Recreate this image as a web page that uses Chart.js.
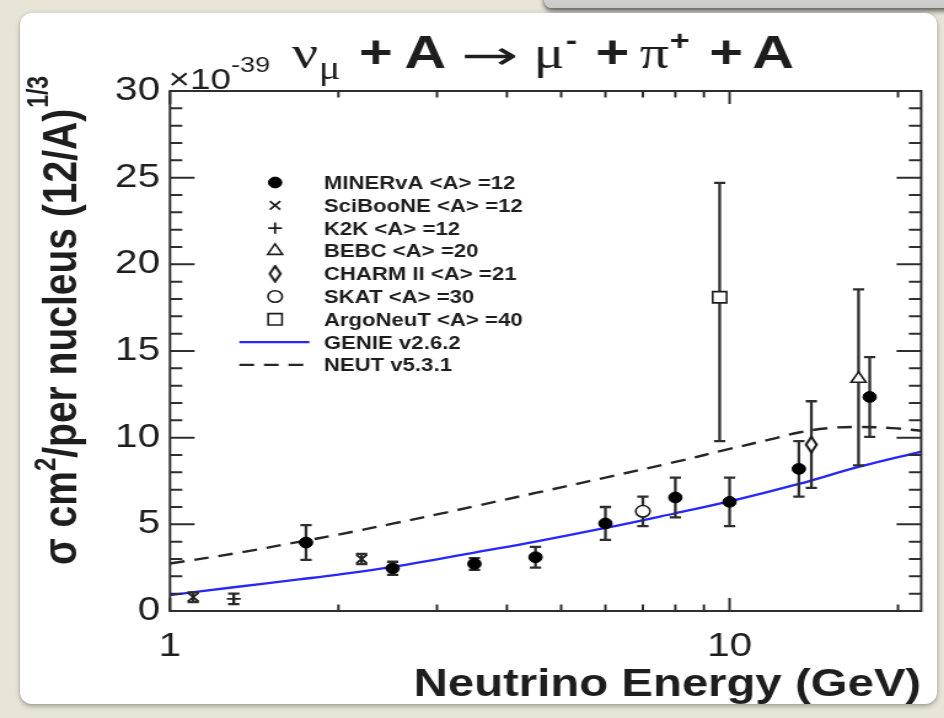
<!DOCTYPE html>
<html>
<head>
<meta charset="utf-8">
<script src="https://cdn.jsdelivr.net/npm/chart.js@4.4.1/dist/chart.umd.min.js"></script>
<style>
  html, body { margin: 0; padding: 0; }
  body { width: 944px; height: 718px; overflow: hidden; position: relative; background: #e8e5d8; }
  #shade { position: absolute; left: 544px; top: -30px; width: 420px; height: 38px;
           background: linear-gradient(#e2e2de, #c9c9c5); border-radius: 8px;
           box-shadow: 0 3px 5px rgba(0,0,0,0.6); }
  #card { position: absolute; left: 20px; top: 13px; width: 917px; height: 691px; background: #fff;
          border-radius: 12px; box-shadow: 0 2px 5px rgba(0,0,0,0.35); }
  #stage { position: absolute; left: 0; top: 0; width: 768px; height: 718px;
           transform: scaleX(1.2292); transform-origin: 0 0; }
</style>
</head>
<body>
<div id="shade"></div>
<div id="card"></div>
<div id="stage"><canvas id="c"></canvas></div>
<script>
// ---- measurements: neutrino energy (GeV), cross section (1e-39 cm^2 per nucleus, scaled to A=12) ----
const minervaE     = [1.75, 2.5, 3.5, 4.5, 6.0, 8.0, 10.0, 13.3, 17.8];
const minervaXs    = [3.95, 2.46, 2.72, 3.1, 5.05, 6.55, 6.3, 8.2, 12.35];
const minervaErrLo = [1.0, 0.38, 0.35, 0.6, 0.95, 1.15, 1.4, 1.6, 2.3];
const minervaErrHi = [1.0, 0.38, 0.33, 0.6, 0.95, 1.15, 1.4, 1.6, 2.3];

const scibooneE     = [1.1, 2.2];
const scibooneXs    = [0.8, 3.0];
const scibooneErrLo = [0.28, 0.3];
const scibooneErrHi = [0.28, 0.3];

const k2kE     = [1.3];
const k2kXs    = [0.7];
const k2kErrLo = [0.3];
const k2kErrHi = [0.3];

const bebcE     = [17.0];
const bebcXs    = [13.4];
const bebcErrLo = [5.0];
const bebcErrHi = [5.15];

const charmE     = [14.0];
const charmXs    = [9.6];
const charmErrLo = [2.5];
const charmErrHi = [2.5];

const skatE     = [7.0];
const skatXs    = [5.75];
const skatErrLo = [0.85];
const skatErrHi = [0.85];

const argoE     = [9.6];
const argoXs    = [18.1];
const argoErrLo = [8.3];
const argoErrHi = [6.6];

// ---- model predictions ----
const genieE  = [1.0, 1.3, 1.7, 2.0, 2.5, 3.0, 3.5, 4.5, 6.0, 8.0, 10.0, 13.3, 17.0, 22.0];
const genieXs = [0.92, 1.37, 1.82, 2.1, 2.54, 2.98, 3.37, 4.0, 4.79, 5.64, 6.32, 7.33, 8.31, 9.2];

const neutE  = [1.0, 1.3, 1.7, 2.0, 2.5, 3.0, 3.5, 4.5, 6.0, 8.0, 10.0, 12.0, 13.3, 15.0, 17.0, 19.5, 22.0];
const neutXs = [2.74, 3.31, 3.99, 4.41, 5.04, 5.57, 6.04, 6.81, 7.7, 8.6, 9.35, 9.95, 10.3, 10.55, 10.62, 10.55, 10.4];

// ---- axes ----
const xTickValues  = [1, 10];
const xTickLabels  = ['1', '10'];
const xMinorTicks  = [2, 3, 4, 5, 6, 7, 8, 9, 20];
const yMajorTicks  = [0, 5, 10, 15, 20, 25, 30];
const yMinorTicks  = [1, 2, 3, 4, 6, 7, 8, 9, 11, 12, 13, 14, 16, 17, 18, 19, 21, 22, 23, 24, 26, 27, 28, 29];

const SANS  = '"Liberation Sans", Arial, Helvetica, sans-serif';
const SERIF = '"Liberation Serif", "DejaVu Serif", serif';
const INK   = '#1e1e1e';
const AXIS  = '#2e2e2e';
const CAP   = 4.6;

function diamondMarker() {
  const c = document.createElement('canvas');
  c.width = 12; c.height = 18;
  const g = c.getContext('2d');
  g.beginPath();
  g.moveTo(6, 1.3); g.lineTo(10.4, 9); g.lineTo(6, 16.7); g.lineTo(1.6, 9); g.closePath();
  g.fillStyle = '#fff'; g.fill();
  g.lineWidth = 2; g.strokeStyle = '#111'; g.stroke();
  return c;
}

const pts = (xs, ys) => xs.map((x, i) => ({ x, y: ys[i] }));

function pointSet(label, xs, ys, lo, hi, look) {
  return Object.assign({
    label, data: pts(xs, ys), errLo: lo, errHi: hi, showLine: false,
    pointHoverRadius: look.pointRadius
  }, look);
}

const filled  = { pointStyle: 'circle', pointRadius: 5.4, pointBackgroundColor: '#000', pointBorderColor: '#000', pointBorderWidth: 1 };
const xMark   = { pointStyle: 'crossRot', pointRadius: 6, pointBackgroundColor: INK, pointBorderColor: INK, pointBorderWidth: 1.8 };
const plus    = { pointStyle: 'cross', pointRadius: 5.6, pointBackgroundColor: INK, pointBorderColor: INK, pointBorderWidth: 1.8 };
const triOpen = { pointStyle: 'triangle', pointRadius: 7, pointBackgroundColor: '#fff', pointBorderColor: INK, pointBorderWidth: 1.6 };
const diaOpen = { pointStyle: diamondMarker(), pointRadius: 6, pointBackgroundColor: '#fff', pointBorderColor: INK, pointBorderWidth: 1.6 };
const cirOpen = { pointStyle: 'circle', pointRadius: 5.8, pointBackgroundColor: '#fff', pointBorderColor: INK, pointBorderWidth: 1.6 };
const sqOpen  = { pointStyle: 'rect', pointRadius: 8, pointBackgroundColor: '#fff', pointBorderColor: INK, pointBorderWidth: 1.6 };

const datasets = [
  pointSet('MINERvA <A> =12',   minervaE, minervaXs, minervaErrLo, minervaErrHi, filled),
  pointSet('SciBooNE <A> =12',  scibooneE, scibooneXs, scibooneErrLo, scibooneErrHi, xMark),
  pointSet('K2K <A> =12',       k2kE, k2kXs, k2kErrLo, k2kErrHi, plus),
  pointSet('BEBC <A> =20',      bebcE, bebcXs, bebcErrLo, bebcErrHi, triOpen),
  pointSet('CHARM II <A> =21',  charmE, charmXs, charmErrLo, charmErrHi, diaOpen),
  pointSet('SKAT <A> =30',      skatE, skatXs, skatErrLo, skatErrHi, cirOpen),
  pointSet('ArgoNeuT <A> =40',  argoE, argoXs, argoErrLo, argoErrHi, sqOpen),
  { label: 'GENIE v2.6.2', data: pts(genieE, genieXs), showLine: true, pointRadius: 0, pointHoverRadius: 0,
    borderColor: '#2626ff', borderWidth: 2.3, tension: 0.4, fill: false },
  { label: 'NEUT v5.3.1', data: pts(neutE, neutXs), showLine: true, pointRadius: 0, pointHoverRadius: 0,
    borderColor: '#262626', borderWidth: 2.4, borderDash: [12, 8], tension: 0.4, fill: false }
];

// vertical error bars with end caps, drawn just before each marker set
const errorBars = {
  id: 'errorBars',
  beforeDatasetDraw(chart, args) {
    const ds = chart.data.datasets[args.index];
    if (!ds.errLo) return;
    const y = chart.scales.y, ctx = chart.ctx;
    ctx.save();
    ctx.strokeStyle = AXIS;
    ctx.lineWidth = 2.3;
    args.meta.data.forEach((pt, i) => {
      const v = ds.data[i].y;
      const top = y.getPixelForValue(v + ds.errHi[i]);
      const bot = y.getPixelForValue(v - ds.errLo[i]);
      ctx.beginPath();
      ctx.moveTo(pt.x, top); ctx.lineTo(pt.x, bot);
      ctx.moveTo(pt.x - CAP, top); ctx.lineTo(pt.x + CAP, top);
      ctx.moveTo(pt.x - CAP, bot); ctx.lineTo(pt.x + CAP, bot);
      ctx.stroke();
    });
    ctx.restore();
  }
};

// frame with inward ticks on all four sides
const frame = {
  id: 'frame',
  afterDatasetsDraw(chart) {
    const { ctx, chartArea: a, scales: { x, y } } = chart;
    ctx.save();
    ctx.strokeStyle = AXIS;
    ctx.lineWidth = 2;
    ctx.strokeRect(a.left, a.top, a.right - a.left, a.bottom - a.top);
    ctx.beginPath();
    const yTick = (v, len) => {
      const p = y.getPixelForValue(v);
      ctx.moveTo(a.left, p); ctx.lineTo(a.left + len, p);
      ctx.moveTo(a.right, p); ctx.lineTo(a.right - len, p);
    };
    yMajorTicks.forEach(v => yTick(v, 20));
    yMinorTicks.forEach(v => yTick(v, 10));
    const xTick = (v, len) => {
      const p = x.getPixelForValue(v);
      ctx.moveTo(p, a.bottom); ctx.lineTo(p, a.bottom - len);
      ctx.moveTo(p, a.top); ctx.lineTo(p, a.top + len);
    };
    xTickValues.forEach(v => xTick(v, 13));
    xMinorTicks.forEach(v => xTick(v, 6.5));
    ctx.stroke();
    ctx.restore();
  }
};

function drawRuns(ctx, runs, x0, y0) {
  let x = x0;
  runs.forEach(r => {
    ctx.font = r.font;
    ctx.fillText(r.t, x + (r.dx || 0), y0 - (r.up || 0));
    x += ctx.measureText(r.t).width + (r.dx || 0);
  });
}

// titles, exponent and legend
const annotations = {
  id: 'annotations',
  afterDraw(chart) {
    const ctx = chart.ctx;
    ctx.save();
    ctx.fillStyle = INK;
    ctx.textBaseline = 'alphabetic';
    ctx.textAlign = 'left';

    // reaction title: nu_mu + A -> mu- + pi+ + A
    const T = 47;
    const bold = `bold ${T}px ${SANS}`, greek = `${T}px ${SERIF}`;
    const small = `bold ${Math.round(T * 0.6)}px ${SANS}`;
    const put = (t, f, x, y) => { ctx.font = f; ctx.fillText(t, x, y); return x + ctx.measureText(t).width; };
    let e = put('ν', greek, 237.5, 68);
    put('μ', `${Math.round(T * 0.7)}px ${SERIF}`, e + 0.5, 79);
    put('+', bold, 292.0, 68);
    put('A', bold, 329.0, 68);
    // long arrow: ink box scaled to span 378..420 and centred near y = 56
    ctx.save();
    ctx.font = `40px "DejaVu Sans", sans-serif`;
    const m = ctx.measureText('→');
    const inkW = m.actualBoundingBoxLeft + m.actualBoundingBoxRight;
    const inkMid = (m.actualBoundingBoxAscent - m.actualBoundingBoxDescent) / 2;
    ctx.translate(378, 56 + inkMid);
    ctx.scale(42 / inkW, 1);
    ctx.fillText('→', m.actualBoundingBoxLeft, 0);
    ctx.restore();
    e = put('μ', greek, 434.0, 68);
    put('-', small, e + 1, 50);
    put('+', bold, 484.5, 68);
    e = put('π', greek, 520.5, 68);
    put('+', small, e + 0.5, 50);
    put('+', bold, 577.0, 68);
    put('A', bold, 612.0, 68);

    // axis multiplier
    drawRuns(ctx, [
      { t: '×10', font: `30px ${SANS}` },
      { t: '-39', font: `22px ${SANS}`, up: 17 }
    ], 137.0, 89);

    // x-axis title
    ctx.font = `bold 38.5px ${SANS}`;
    ctx.textAlign = 'right';
    ctx.fillText('Neutrino Energy (GeV)', chart.chartArea.right, 696);
    ctx.textAlign = 'left';

    // y-axis title, reading upwards
    ctx.save();
    ctx.translate(61.5, 565);
    ctx.rotate(-Math.PI / 2);
    const Y = 39;
    drawRuns(ctx, [
      { t: 'σ', font: `bold ${Y}px ${SANS}` },
      { t: ' cm', font: `bold ${Y}px ${SANS}` },
      { t: '2', font: `bold ${Math.round(Y * 0.62)}px ${SANS}`, up: Y * 0.42 },
      { t: '/per nucleus (12/A)', font: `bold ${Y}px ${SANS}` },
      { t: '1/3', font: `bold ${Math.round(Y * 0.58)}px ${SANS}`, up: Y * 0.58, dx: 1 }
    ], 0, 0);
    ctx.restore();

    // legend
    const mx = 223.8, tx = 263.6, row0 = 182.5, step = 22.8;
    const draw = Chart.helpers && Chart.helpers.drawPoint;
    chart.data.datasets.forEach((ds, i) => {
      const cy = row0 + i * step;
      ctx.save();
      if (ds.showLine) {
        ctx.strokeStyle = ds.borderColor;
        ctx.lineWidth = ds.borderWidth;
        ctx.setLineDash(ds.borderDash || []);
        ctx.beginPath(); ctx.moveTo(194.7, cy); ctx.lineTo(251.7, cy); ctx.stroke();
      } else if (draw) {
        ctx.fillStyle = ds.pointBackgroundColor;
        ctx.strokeStyle = ds.pointBorderColor;
        ctx.lineWidth = ds.pointBorderWidth;
        draw(ctx, { pointStyle: ds.pointStyle, radius: ds.pointRadius, rotation: 0, borderWidth: ds.pointBorderWidth }, mx, cy);
      }
      ctx.restore();
      ctx.font = `bold 18px ${SANS}`;
      ctx.fillStyle = INK;
      ctx.fillText(ds.label, tx, cy + 6.5);
    });
    ctx.restore();
  }
};

new Chart(document.getElementById('c'), {
  type: 'scatter',
  data: { datasets },
  options: {
    responsive: true,
    maintainAspectRatio: false,
    animation: false,
    events: [],
    layout: { padding: { top: 91, right: 18.6, bottom: 0, left: 0 } },
    plugins: { legend: { display: false }, tooltip: { enabled: false } },
    scales: {
      x: {
        type: 'logarithmic', min: 1, max: 22,
        grid: { display: false, drawTicks: false },
        border: { display: false },
        afterBuildTicks: s => { s.ticks = xTickValues.map(v => ({ value: v })); },
        afterFit: s => { s.height = 107; },
        ticks: {
          autoSkip: false, maxRotation: 0, padding: 16, color: INK,
          font: { family: SANS, size: 33 },
          callback: (v, i) => xTickLabels[i]
        }
      },
      y: {
        min: 0, max: 30,
        grid: { display: false, drawTicks: false },
        border: { display: false },
        afterFit: s => { s.width = 138.3; },
        ticks: { stepSize: 5, padding: 8, color: INK, font: { family: SANS, size: 33 } }
      }
    }
  },
  plugins: [errorBars, frame, annotations]
});
</script>
</body>
</html>
